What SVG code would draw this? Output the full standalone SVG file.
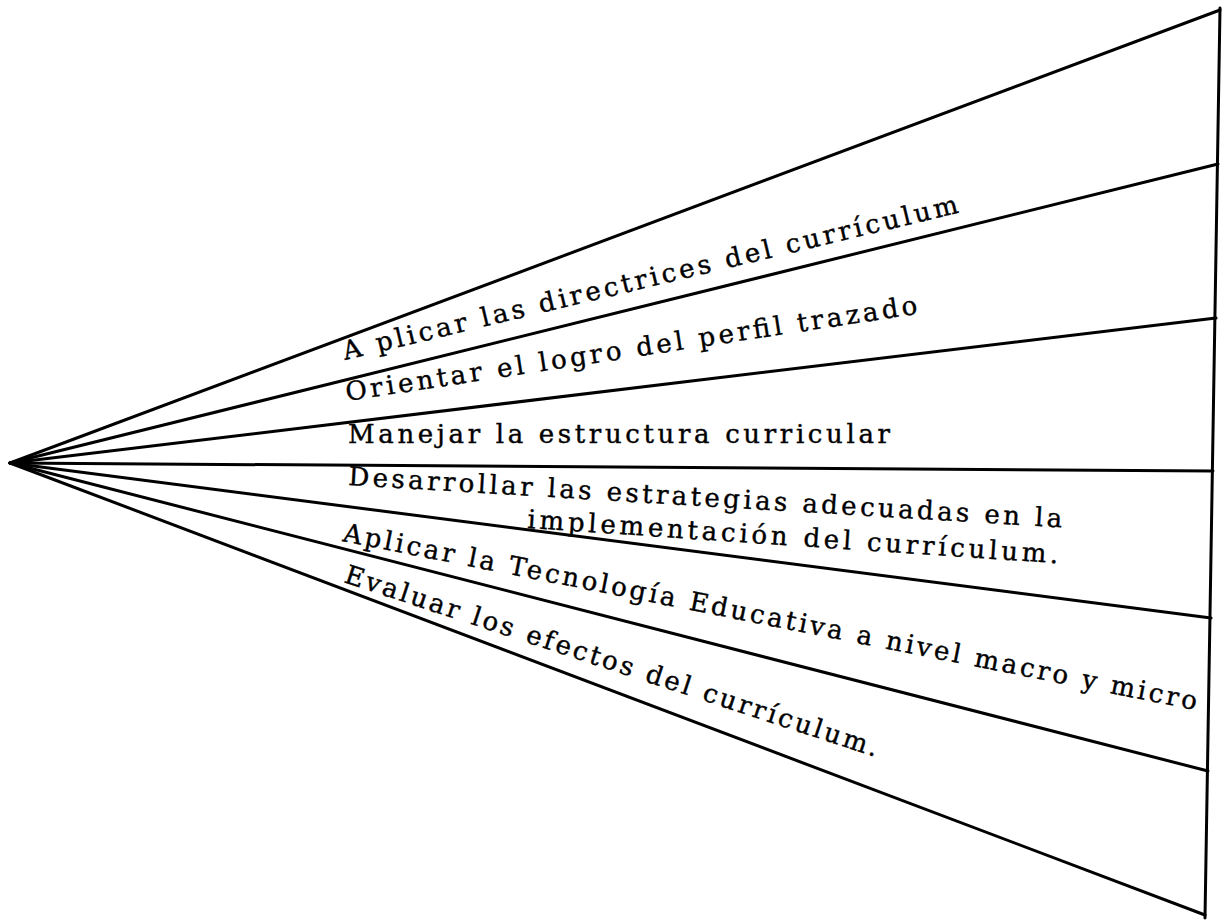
<svg xmlns="http://www.w3.org/2000/svg" width="1226" height="921" viewBox="0 0 1226 921">
<style>
.ln{stroke:#000;stroke-width:3;fill:none;stroke-linecap:round}
.t{font-family:"DejaVu Serif","Liberation Serif",serif;font-size:26px;fill:#000;stroke:#000;stroke-width:0.4}
</style>
<rect width="1226" height="921" fill="#fff"/>
<g id="connectors">
<line class="ln" x1="10" y1="463" x2="1220" y2="10"/>
<line class="ln" x1="10" y1="463" x2="1218" y2="164"/>
<line class="ln" x1="10" y1="463" x2="1216" y2="318"/>
<line class="ln" x1="10" y1="463" x2="1213" y2="471"/>
<line class="ln" x1="10" y1="463" x2="1211" y2="618"/>
<line class="ln" x1="10" y1="463" x2="1208" y2="771"/>
<line class="ln" x1="10" y1="463" x2="1205" y2="915"/>
<line class="ln" x1="1220" y1="8" x2="1205" y2="918"/>
</g>
<g id="n1"><text class="t" transform="translate(345,360) rotate(-13.5)" textLength="632" lengthAdjust="spacing">A plicar las directrices del currículum</text></g>
<g id="n2"><text class="t" transform="translate(347,401) rotate(-8.7)" textLength="578" lengthAdjust="spacing">Orientar el logro del perfil trazado</text></g>
<g id="n3"><text class="t" transform="translate(348,443)" textLength="542" lengthAdjust="spacing">Manejar la estructura curricular</text></g>
<g id="n4"><text class="t" transform="translate(348,485) rotate(3.4)" textLength="715" lengthAdjust="spacing">Desarrollar las estrategias adecuadas en la</text>
<text class="t" transform="translate(527,528) rotate(3.8)" textLength="532" lengthAdjust="spacing">implementación del currículum.</text></g>
<g id="n5"><text class="t" transform="translate(342,541) rotate(11.2)" textLength="870" lengthAdjust="spacing">Aplicar la Tecnología Educativa a nivel macro y micro</text></g>
<g id="n6"><text class="t" transform="translate(343,582) rotate(18.2)" textLength="560" lengthAdjust="spacing">Evaluar los efectos del currículum.</text></g>
</svg>
